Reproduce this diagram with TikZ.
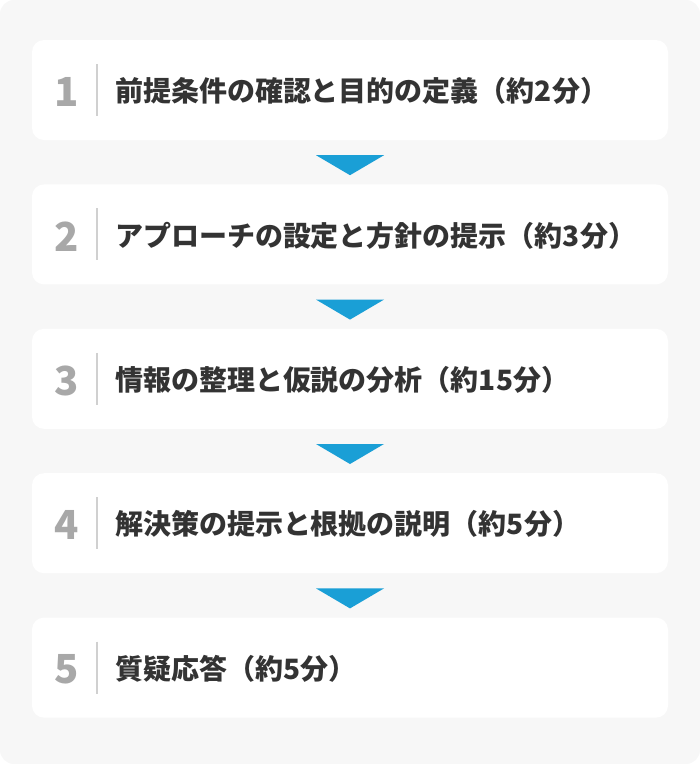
\documentclass[tikz,border=0pt]{standalone}
\usepackage{fontspec}
\newfontfamily\cjk{Noto Sans CJK JP}
\usetikzlibrary{positioning,calc}
\definecolor{panelgray}{HTML}{F7F7F7}
\definecolor{flowblue}{HTML}{1A9FD6}
\definecolor{numgray}{HTML}{A8A8A8}
\definecolor{rulegray}{HTML}{D0D0D0}
\definecolor{textdark}{HTML}{333333}
\tikzset{
  stepbox/.style = {fill = white, shape = rectangle, rounded corners = 12pt, minimum width = 636pt, minimum height = 100pt, inner sep = 0pt},
  stepnum/.style = {text = numgray, font = \cjk\bfseries\fontsize{40}{40}\selectfont, inner sep = 0pt},
  steptext/.style = {text = textdark, font = \cjk\bfseries\fontsize{28}{28}\selectfont, inner sep = 0pt, anchor = west},
  steprule/.style = {draw = rulegray, line width = 1.5pt},
  flowarrow/.style = {fill = flowblue}
}
\begin{document}
\begin{tikzpicture}[x = 1pt, y = -1pt]
\fill[panelgray, rounded corners = 14pt] (0,0) rectangle (700,764);
\useasboundingbox (0,0) rectangle (700,764);
% steps
\node[stepbox] (s1) at (350,90) {};
\node[stepbox, below = 44pt of s1] (s2) {};
\node[stepbox, below = 44pt of s2] (s3) {};
\node[stepbox, below = 44pt of s3] (s4) {};
\node[stepbox, below = 44pt of s4] (s5) {};
\foreach \i/\label in {1/{前提条件の確認と目的の定義（約2分）},
                       2/{アプローチの設定と方針の提示（約3分）},
                       3/{情報の整理と仮説の分析（約15分）},
                       4/{解決策の提示と根拠の説明（約5分）},
                       5/{質疑応答（約5分）}}
{
  \node[stepnum] (n\i) at ($(s\i.west) + (35,2)$) {\i};
  \draw[steprule] ($(s\i.west) + (65,-26)$) -- ($(s\i.west) + (65,26)$);
  \node[steptext] (t\i) at ($(s\i.west) + (83,1)$) {\label};
}
% arrows between steps
\foreach \i/\j in {1/2, 2/3, 3/4, 4/5}
  \fill[flowarrow] ($(s\i.south)!0.5!(s\j.north)$) +(-34,-7) -- +(34,-7) -- +(0,13) -- cycle;
\end{tikzpicture}
\end{document}
